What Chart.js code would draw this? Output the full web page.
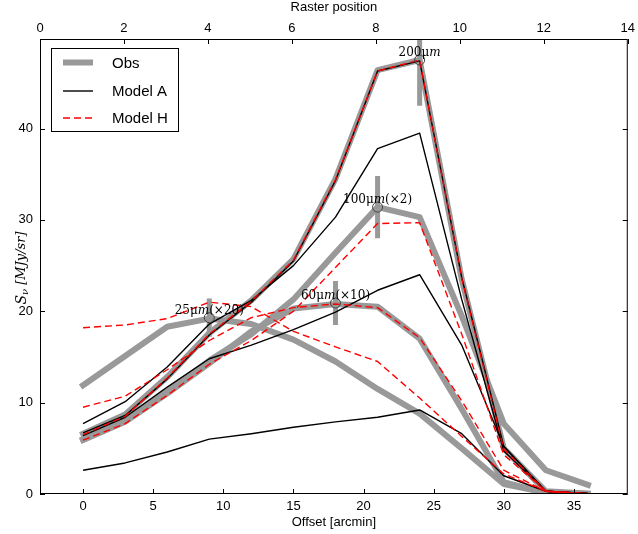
<!DOCTYPE html>
<html><head><meta charset="utf-8">
<script src="https://cdn.jsdelivr.net/npm/chart.js@4.4.1/dist/chart.umd.min.js"></script>
<style>html,body{margin:0;padding:0;background:#fff;}#wrap{width:638px;height:534px;}</style>
</head><body><div id="wrap"><canvas id="c" width="638" height="534"></canvas></div>
<script>
const offsets = [0,3,6,9,12,15,18,21,24,27,30,33,36];

const obs200 = [6.6, 8.7, 12.8, 17.6, 21.2, 25.7, 34.5, 46.4, 47.5, 23.5, 5.0, 0.3, 0.05];
const modelA200 = [6.7, 8.6, 12.6, 17.4, 21.0, 25.5, 34.3, 46.3, 47.4, 23.7, 5.2, 0.3, 0.05];
const modelH200 = [6.5, 8.5, 12.7, 17.5, 21.1, 25.6, 34.4, 46.3, 47.5, 23.6, 4.9, 0.3, 0.05];

const obs100 = [6.0, 8.0, 11.2, 14.6, 17.5, 21.3, 26.4, 31.4, 30.3, 19.5, 7.7, 2.6, 1.0];
const modelA100 = [7.7, 10.1, 13.9, 18.6, 21.2, 25.0, 30.3, 37.8, 39.5, 21.3, 4.7, 0.3, 0.05];
const modelH100 = [5.9, 7.7, 10.8, 14.2, 16.8, 20.0, 24.8, 29.6, 29.7, 17.5, 4.3, 0.3, 0.03];

const obs60 = [5.9, 7.9, 11.0, 14.3, 17.8, 20.3, 20.8, 20.5, 17.0, 9.3, 1.3, 0.1, 0.0];
const modelA60 = [6.4, 8.4, 11.7, 14.8, 16.3, 18.0, 19.9, 22.3, 24.0, 16.3, 5.2, 0.3, 0.02];
const modelH60 = [9.5, 10.7, 13.6, 16.8, 19.3, 20.4, 20.8, 20.4, 17.1, 10.2, 2.6, 0.3, 0.02];

const obs25 = [11.9, 15.1, 18.3, 19.2, 18.6, 16.9, 14.5, 11.5, 8.8, 5.0, 1.1, 0.15, 0.0];
const modelA25 = [2.6, 3.4, 4.6, 6.0, 6.6, 7.3, 7.9, 8.4, 9.2, 6.6, 2.0, 0.3, 0.02];
const modelH25 = [18.2, 18.5, 19.2, 21.0, 20.5, 17.8, 16.1, 14.5, 10.5, 6.3, 2.2, 0.3, 0.02];

const errOffsets = [9, 18, 21, 24];
const errCenters = [19.3, 20.9, 31.4, 47.5];
const errHalf = [2.1, 2.4, 3.4, 5.0];
const waveNames = ['25', '60', '100', '200'];
const waveFactors = ['(×20)', '(×10)', '(×2)', ''];

const xTicks = [0,5,10,15,20,25,30,35];
const yTicks = [0,10,20,30,40];
const rasterTicks = [0,2,4,6,8,10,12,14];
const legendNames = ['Obs', 'Model A', 'Model H'];

const GREY = '#999999', BLACK = '#000000', RED = '#ff0000';
const pts = arr => offsets.map((o,i) => ({x:o, y:arr[i]}));
const styles = {
  obs: {borderColor:GREY, borderWidth:6, order:30, borderCapStyle:'square'},
  A:   {borderColor:BLACK, borderWidth:1.4, order:20},
  H:   {borderColor:RED, borderWidth:1.4, borderDash:[7,4], order:10}
};
function line(arr, kind){
  return Object.assign({type:'line', data:pts(arr), pointRadius:0, tension:0, fill:false,
    borderJoinStyle:'round', showLine:true}, styles[kind]);
}
const datasets = [
  line(obs200,'obs'), line(obs100,'obs'), line(obs60,'obs'), line(obs25,'obs'),
  line(modelA200,'A'), line(modelA100,'A'), line(modelA60,'A'), line(modelA25,'A'),
  line(modelH200,'H'), line(modelH100,'H'), line(modelH60,'H'), line(modelH25,'H')
];
errOffsets.forEach((o,i) => {
  datasets.push({type:'line', data:[{x:o,y:errCenters[i]-errHalf[i]},{x:o,y:errCenters[i]+errHalf[i]}],
    borderColor:GREY, borderWidth:5, pointRadius:0, order:25, borderCapStyle:'butt'});
});
datasets.push({type:'scatter', data:errOffsets.map((o,i)=>({x:o,y:errCenters[i]})),
  pointRadius:5, pointStyle:'circle', backgroundColor:'rgba(0,0,0,0)', borderColor:'#444',
  pointBorderWidth:1, borderWidth:1, order:0, showLine:false});

const SANS = '"Liberation Sans", Arial, sans-serif';
const SERIF = '"DejaVu Serif", serif';

const framePlugin = {
  id:'frame',
  afterDraw(chart){
    const {ctx, chartArea:a, scales} = chart;
    ctx.save();
    ctx.strokeStyle = '#000'; ctx.lineWidth = 1;
    ctx.strokeRect(a.left+0.5, a.top+0.5, a.right-a.left-1, a.bottom-a.top-1);
    const TL = 5;
    ctx.beginPath();
    xTicks.forEach(v => { const p = Math.round(scales.x.getPixelForValue(v))+0.5;
      ctx.moveTo(p, a.bottom); ctx.lineTo(p, a.bottom-TL); });
    rasterTicks.forEach(v => { const p = Math.round(scales.x2.getPixelForValue(v))+0.5;
      ctx.moveTo(p, a.top); ctx.lineTo(p, a.top+TL); });
    yTicks.forEach(v => { const p = Math.round(scales.y.getPixelForValue(v))+0.5;
      ctx.moveTo(a.left, p); ctx.lineTo(a.left+TL, p);
      ctx.moveTo(a.right, p); ctx.lineTo(a.right-TL, p); });
    ctx.stroke();

    ctx.fillStyle = '#000'; ctx.textBaseline = 'alphabetic'; ctx.textAlign = 'left';
    errOffsets.forEach((o,i) => {
      const px = scales.x.getPixelForValue(o), py = scales.y.getPixelForValue(errCenters[i]);
      const parts = [[waveNames[i]+'μ', '12px '+SERIF], ['m', 'italic 12px '+SERIF], [waveFactors[i], '12px '+SERIF]];
      let w = 0; parts.forEach(p => { ctx.font = p[1]; w += ctx.measureText(p[0]).width; });
      let x = px - w/2;
      parts.forEach(p => { ctx.font = p[1]; ctx.fillText(p[0], x, py-4); x += ctx.measureText(p[0]).width; });
    });

    ctx.save();
    ctx.translate(21, 268); ctx.rotate(-Math.PI/2);
    const yp = [['S','italic 14px '+SERIF,0], ['ν','italic 10px '+SERIF,3], [' [MJy/sr]','italic 13px '+SERIF,0]];
    let tw = 0; yp.forEach(p => { ctx.font = p[1]; tw += ctx.measureText(p[0]).width; });
    let tx = -tw/2; ctx.textBaseline = 'middle';
    yp.forEach(p => { ctx.font = p[1]; ctx.fillText(p[0], tx, p[2]+1); tx += ctx.measureText(p[0]).width; });
    ctx.restore();

    const lx = 51, ly = 48, lw = 127, lh = 83;
    ctx.fillStyle = '#fff'; ctx.fillRect(lx, ly, lw, lh);
    ctx.strokeStyle = '#000'; ctx.lineWidth = 1; ctx.strokeRect(lx+0.5, ly+0.5, lw, lh);
    const rows = [62.5, 91, 118];
    const st = [styles.obs, styles.A, styles.H];
    rows.forEach((ry, i) => {
      ctx.beginPath(); ctx.strokeStyle = st[i].borderColor; ctx.lineWidth = st[i].borderWidth;
      ctx.setLineDash(st[i].borderDash || []); ctx.lineCap = 'butt';
      ctx.moveTo(63, ry); ctx.lineTo(93, ry); ctx.stroke(); ctx.setLineDash([]);
      ctx.fillStyle = '#000'; ctx.font = '15px '+SANS; ctx.textBaseline = 'middle';
      ctx.fillText(legendNames[i], 112, ry+1);
    });
    ctx.restore();
  }
};

new Chart(document.getElementById('c'), {
  data:{datasets},
  options:{
    responsive:false, animation:false, devicePixelRatio:1,
    layout:{padding:{left:0, right:8, top:0, bottom:0}},
    plugins:{legend:{display:false}, tooltip:{enabled:false}},
    scales:{
      x:{type:'linear', position:'bottom', min:-3.07, max:38.84,
        grid:{display:false, drawTicks:false}, border:{display:false},
        afterBuildTicks:s => { s.ticks = xTicks.map(v => ({value:v})); },
        afterFit:s => { s.height = 40; },
        ticks:{autoSkip:false, maxRotation:0, padding:5, color:'#000', font:{family:SANS, size:13}},
        title:{display:true, text:'Offset [arcmin]', color:'#000', font:{family:SANS, size:13}, padding:{top:0,bottom:4}}},
      x2:{type:'linear', position:'top', min:0, max:14,
        grid:{display:false, drawTicks:false}, border:{display:false},
        afterBuildTicks:s => { s.ticks = rasterTicks.map(v => ({value:v})); },
        afterFit:s => { s.height = 39; },
        ticks:{autoSkip:false, maxRotation:0, padding:3, color:'#000', font:{family:SANS, size:13}},
        title:{display:true, text:'Raster position', color:'#000', font:{family:SANS, size:13}, padding:{top:0,bottom:0}}},
      y:{type:'linear', position:'left', min:0, max:49.8,
        grid:{display:false, drawTicks:false}, border:{display:false},
        afterBuildTicks:s => { s.ticks = yTicks.map(v => ({value:v})); },
        afterFit:s => { s.width = 40; },
        ticks:{autoSkip:false, padding:7, color:'#000', font:{family:SANS, size:13}}}
    }
  },
  plugins:[framePlugin]
});
</script></body></html>
